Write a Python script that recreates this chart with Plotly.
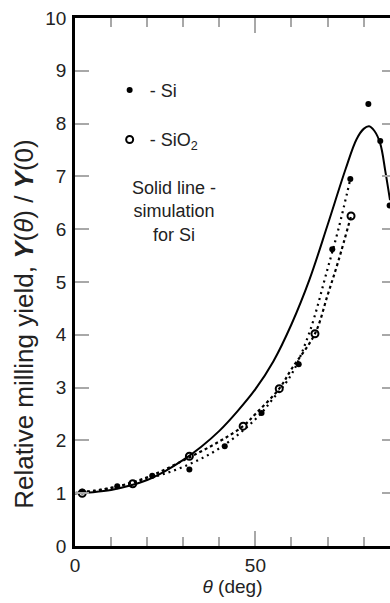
import plotly.graph_objects as go

theta_si = [2, 11.7, 21.4, 31.7, 41.5, 51.7, 62, 71.3, 76.3, 81.3, 84.6, 87.2]
yield_si = [1.03, 1.13, 1.33, 1.45, 1.89, 2.52, 3.44, 5.62, 6.95, 8.37, 7.67, 6.45]

theta_sio2 = [2, 16, 31.7, 46.6, 56.6, 66.5, 76.5]
yield_sio2 = [1.0, 1.18, 1.70, 2.27, 2.98, 4.02, 6.25]

# Dotted guide curves
theta_si_fit = [0, 10, 20, 30, 40, 50, 55, 60, 65, 70, 73, 76.3]
yield_si_fit = [1.0, 1.1, 1.27, 1.5, 1.85, 2.4, 2.8, 3.25, 4.05, 5.25, 6.0, 6.95]
theta_sio2_fit = [0, 10, 20, 30, 40, 46.6, 50, 56.6, 60, 66.5, 70, 73, 76.5]
yield_sio2_fit = [1.0, 1.1, 1.3, 1.62, 1.98, 2.27, 2.5, 2.98, 3.35, 4.02, 4.75, 5.4, 6.25]

# Simulation for Si (solid line)
theta_sim = [0, 5, 10, 15, 20, 25, 30, 35, 40, 45, 50, 55, 60, 65, 70, 75, 78, 80, 81.5, 83, 84.6, 86, 87.3]
yield_sim = [1.0, 1.02, 1.06, 1.14, 1.25, 1.42, 1.63, 1.88, 2.18, 2.55, 2.97, 3.5, 4.2, 5.05, 6.08, 7.14, 7.7, 7.9, 7.95, 7.86, 7.62, 7.1, 6.55]

FONT = "Liberation Sans, Arial, Helvetica, sans-serif"
GREY = "#a8a8a8"
TXT = "#222"

fig = go.Figure()
fig.add_trace(go.Scatter(x=theta_sim, y=yield_sim, mode="lines", line=dict(color="black", width=2, shape="spline"),
                         showlegend=False, hoverinfo="skip"))
fig.add_trace(go.Scatter(x=theta_si_fit, y=yield_si_fit, mode="lines",
                         line=dict(color="black", width=2.2, dash="2px,4px", shape="spline"),
                         showlegend=False, hoverinfo="skip"))
fig.add_trace(go.Scatter(x=theta_sio2_fit, y=yield_sio2_fit, mode="lines",
                         line=dict(color="black", width=2.2, dash="3px,3px", shape="spline"),
                         showlegend=False, hoverinfo="skip"))
fig.add_trace(go.Scatter(x=theta_si, y=yield_si, mode="markers", name="- Si",
                         marker=dict(symbol="circle", size=6, color="black"), legendgroup="a"))
fig.add_trace(go.Scatter(x=theta_sio2, y=yield_sio2, mode="markers", name="- SiO<sub>2</sub>",
                         marker=dict(symbol="circle-open", size=7, color="black", line=dict(width=2)), legendgroup="b"))

XR = [0, 87.3]
fig.update_layout(
    width=390, height=603,
    margin=dict(l=75, r=0, t=18, b=57),
    paper_bgcolor="white", plot_bgcolor="white",
    font=dict(family=FONT, size=19, color=TXT),
    showlegend=True,
    legend=dict(x=0.11, y=0.898, xanchor="left", yanchor="top", bgcolor="rgba(0,0,0,0)",
                font=dict(size=18), tracegroupgap=23, itemwidth=30),
    xaxis=dict(range=XR, showgrid=False, zeroline=False, showline=True, linecolor="black", linewidth=2.5,
               ticks="inside", ticklen=15, tickwidth=1.5, tickcolor=GREY,
               tickvals=[0, 50], ticktext=["0", "50"], tickfont=dict(size=19),
               minor=dict(dtick=10, tick0=0, ticks="inside", ticklen=9, tickwidth=1.5, tickcolor=GREY),
               title=dict(text="<i>θ</i> (deg)", font=dict(size=19), standoff=4)),
    xaxis2=dict(range=XR, overlaying="x", side="top", matches="x", showgrid=False, zeroline=False,
                showline=True, linecolor="black", linewidth=2.5,
                ticks="inside", ticklen=15, tickwidth=1.5, tickcolor=GREY,
                tickvals=[0, 50], showticklabels=False,
                minor=dict(dtick=10, tick0=0, ticks="inside", ticklen=9, tickwidth=1.5, tickcolor=GREY)),
    yaxis=dict(range=[0, 10], showgrid=False, zeroline=False, showline=True, linecolor="black", linewidth=2.5,
               ticks="inside", ticklen=14, tickwidth=2, tickcolor=GREY, dtick=1, tick0=0,
               tickfont=dict(size=19), ticklabelstandoff=2),
    yaxis2=dict(range=[0, 10], overlaying="y", side="right", showgrid=False, zeroline=False,
                showline=False, ticks="inside", ticklen=8, tickwidth=2, tickcolor=GREY, dtick=1, tick0=0,
                showticklabels=False),
)
fig.add_trace(go.Scatter(x=[None], y=[None], xaxis="x2", yaxis="y2", showlegend=False, hoverinfo="skip"))

fig.add_annotation(text="Relative milling yield, <b><i>Y</i></b>(<i>θ</i>) / <b><i>Y</i></b>(0)",
                   xref="paper", yref="paper", x=-0.16, y=0.42, xanchor="center", yanchor="middle",
                   textangle=-90, showarrow=False, font=dict(size=26, family=FONT, color=TXT))
fig.add_annotation(text="Solid line -<br>simulation<br>for Si", xref="paper", yref="paper",
                   x=0.315, y=0.70, xanchor="center", yanchor="top", align="center",
                   showarrow=False, font=dict(size=18, family=FONT, color=TXT))

fig.write_html("out.html", config={"displayModeBar": False},
               post_script="document.body.style.margin='0';document.body.style.overflow='hidden';")
